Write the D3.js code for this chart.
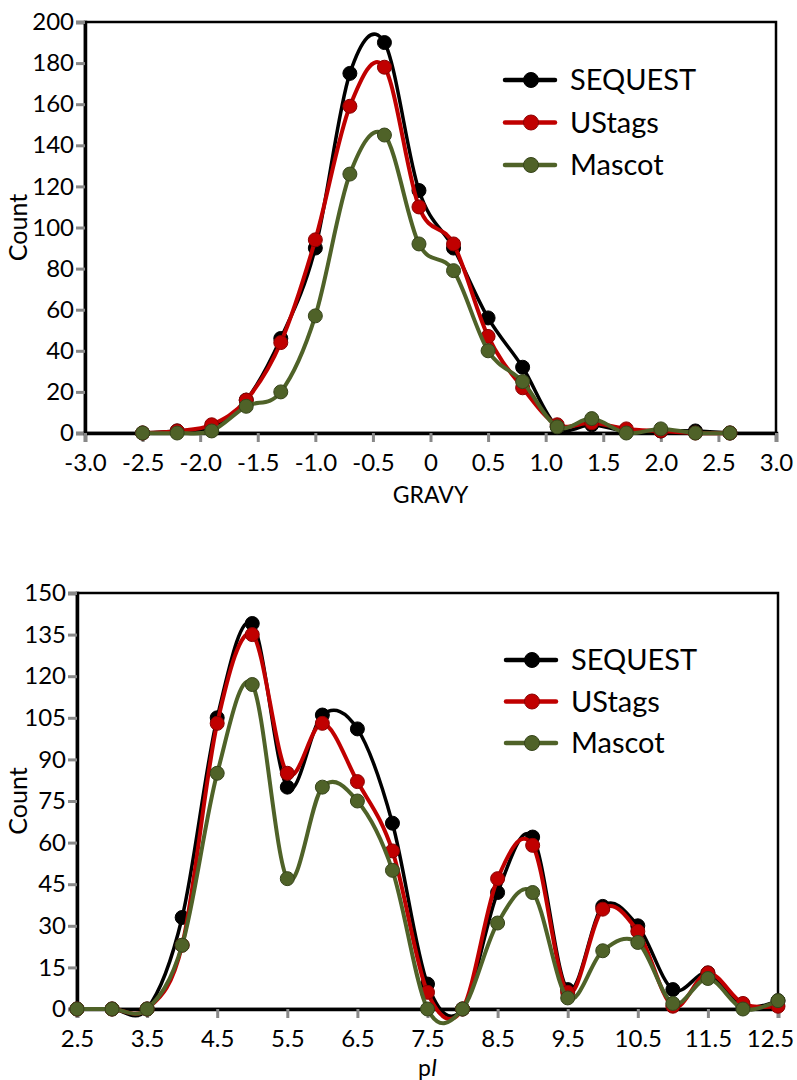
<!DOCTYPE html>
<html>
<head>
<meta charset="utf-8">
<script src="https://cdn.jsdelivr.net/npm/d3@7"></script>
<style>
  body { margin: 0; background: #fff; }
  svg text { font-family: Lato, "Open Sans", sans-serif; fill: #000; }
</style>
</head>
<body>
<svg width="797" height="1080"></svg>
<script>
// GRAVY chart data
let gravyX = [-2.5, -2.2, -1.9, -1.6, -1.3, -1.0, -0.7, -0.4, -0.1, 0.2, 0.5, 0.8, 1.1, 1.4, 1.7, 2.0, 2.3, 2.6];
let gravySequest = [0, 1, 3, 16, 46, 90, 175, 190, 118, 90, 56, 32, 3, 4, 1, 1, 1, 0];
let gravyUstags = [0, 1, 4, 16, 44, 94, 159, 178, 110, 92, 47, 22, 4, 5, 2, 1, 0, 0];
let gravyMascot = [0, 0, 1, 13, 20, 57, 126, 145, 92, 79, 40, 25, 3, 7, 0, 2, 0, 0];
let gravyTicks = [-3, -2.5, -2, -1.5, -1, -0.5, 0, 0.5, 1, 1.5, 2, 2.5, 3];
let gravyYTicks = [0, 20, 40, 60, 80, 100, 120, 140, 160, 180, 200];

// pI chart data
let piX = [2.5, 3, 3.5, 4, 4.5, 5, 5.5, 6, 6.5, 7, 7.5, 8, 8.5, 9, 9.5, 10, 10.5, 11, 11.5, 12, 12.5];
let piSequest = [0, 0, 0, 33, 105, 139, 80, 106, 101, 67, 9, 0, 42, 62, 7, 37, 30, 7, 13, 1, 3];
let piUstags = [0, 0, 0, 23, 103, 135, 85, 103, 82, 57, 6, 0, 47, 59, 6, 36, 28, 1, 13, 2, 1];
let piMascot = [0, 0, 0, 23, 85, 117, 47, 80, 75, 50, 0, 0, 31, 42, 4, 21, 24, 2, 11, 0, 3];
let piTicks = [2.5, 3.5, 4.5, 5.5, 6.5, 7.5, 8.5, 9.5, 10.5, 11.5, 12.5];
let piYTicks = [0, 15, 30, 45, 60, 75, 90, 105, 120, 135, 150];

let seriesNames = ["SEQUEST", "UStags", "Mascot"];
let seriesColors = ["#000000", "#c00000", "#4f6228"];
let markerStroke = ["#000000", "#8a0000", "#36441a"];
let lineWidths = [3.5, 4, 4];

let svg = d3.select("svg");

const drawChart = (opt) => {
  let xScale = d3.scaleLinear().domain(opt.xDomain).range([opt.left, opt.right]);
  let yScale = d3.scaleLinear().domain(opt.yDomain).range([opt.bottom, opt.top]);
  let g = svg.append("g");

  // frame
  g.append("rect")
    .attr("x", opt.left).attr("y", opt.top)
    .attr("width", opt.right - opt.left).attr("height", opt.bottom - opt.top)
    .attr("fill", "none").attr("stroke", "#000").attr("stroke-width", 2.5);

  // y ticks
  let yAxis = g.append("g").attr("transform", "translate(" + opt.left + ",0)")
    .call(d3.axisLeft(yScale).tickValues(opt.yTicks).tickSize(9).tickPadding(2));
  yAxis.select(".domain").attr("stroke", "#000").attr("stroke-width", 3.5);
  yAxis.selectAll(".tick line").attr("stroke", "#888").attr("stroke-width", 3);
  yAxis.selectAll(".tick text").style("font-size", "24px").attr("fill", "#000");

  // x ticks
  let xAxis = g.append("g").attr("transform", "translate(0," + opt.bottom + ")")
    .call(d3.axisBottom(xScale).tickValues(opt.xTicks).tickSize(9).tickPadding(12)
      .tickFormat(opt.xFormat));
  xAxis.select(".domain").attr("stroke", "#000").attr("stroke-width", 3.5);
  xAxis.selectAll(".tick line").attr("stroke", "#888").attr("stroke-width", 3);
  xAxis.selectAll(".tick text").style("font-size", "24px").attr("fill", "#000");
  // keep the last label inside the page
  xAxis.selectAll(".tick text").filter((d, i, n) => i === n.length - 1).attr("dx", opt.lastDx);

  // axis titles
  g.append("text")
    .attr("transform", "translate(" + opt.yLabelX + "," + ((opt.top + opt.bottom) / 2) + ") rotate(-90)")
    .attr("text-anchor", "middle")
    .style("font-size", "25px")
    .text("Count");

  opt.xTitle(g.append("text")
    .attr("x", (opt.left + opt.right) / 2)
    .attr("y", opt.xLabelY)
    .attr("text-anchor", "middle")
    .style("font-size", "23px"));

  let line = d3.line()
    .x((d, i) => xScale(opt.xs[i]))
    .y(d => yScale(d))
    .curve(d3.curveCatmullRom.alpha(0));

  opt.series.forEach((vals, s) => {
    g.append("path")
      .attr("d", line(vals))
      .attr("fill", "none")
      .attr("stroke", seriesColors[s])
      .attr("stroke-width", lineWidths[s])
      .attr("stroke-linejoin", "round");
    g.selectAll(".m" + s)
      .data(vals)
      .enter()
      .append("circle")
      .attr("cx", (d, i) => xScale(opt.xs[i]))
      .attr("cy", d => yScale(d))
      .attr("r", 7)
      .attr("fill", seriesColors[s])
      .attr("stroke", markerStroke[s])
      .attr("stroke-width", 1);
  });

  // legend
  seriesNames.forEach((name, s) => {
    let y = opt.legendY + s * opt.legendStep;
    g.append("line")
      .attr("x1", opt.legendX).attr("x2", opt.legendX + 50)
      .attr("y1", y).attr("y2", y)
      .attr("stroke", seriesColors[s]).attr("stroke-width", 4.5)
      .attr("stroke-linecap", "round");
    g.append("circle")
      .attr("cx", opt.legendX + 26).attr("cy", y).attr("r", 7.5)
      .attr("fill", seriesColors[s]).attr("stroke", markerStroke[s]);
    g.append("text")
      .attr("x", opt.legendX + 65).attr("y", y + 10)
      .style("font-size", "29px")
      .text(name);
  });
};

const hyphen = f => d => f(d).replace("\u2212", "-");

drawChart({
  xs: gravyX,
  series: [gravySequest, gravyUstags, gravyMascot],
  xDomain: [-3, 3], yDomain: [0, 200],
  xTicks: gravyTicks, yTicks: gravyYTicks,
  xFormat: hyphen(d => d === 0 ? "0" : d3.format(".1f")(d)),
  lastDx: 0,
  left: 85, right: 776, top: 22, bottom: 433,
  yLabelX: 27, xLabelY: 503,
  xTitle: t => t.text("GRAVY"),
  legendX: 505, legendY: 80, legendStep: 42.5
});

drawChart({
  xs: piX,
  series: [piSequest, piUstags, piMascot],
  xDomain: [2.5, 12.5], yDomain: [0, 150],
  xTicks: piTicks, yTicks: piYTicks,
  xFormat: d3.format(".1f"),
  lastDx: -8,
  left: 77, right: 778, top: 593, bottom: 1009,
  yLabelX: 27, xLabelY: 1076,
  xTitle: t => {
    t.append("tspan").text("p");
    t.append("tspan").style("font-style", "italic").text("I");
  },
  legendX: 506, legendY: 660, legendStep: 41.5
});
</script>
</body>
</html>
